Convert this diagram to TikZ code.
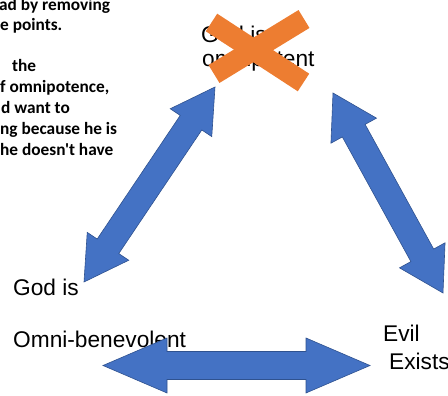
\documentclass[tikz,border=0pt]{standalone}
\usepackage{fontspec}
\setmainfont{Liberation Sans}
\newfontfamily\notefont{Carlito}
\usetikzlibrary{calc}
\definecolor{arrowblue}{HTML}{4472C4}
\definecolor{arrowline}{HTML}{2F528F}
\definecolor{crossorange}{HTML}{ED7D31}
\tikzset{
  label/.style={anchor=base west,inner sep=0pt,font=\fontsize{22.7}{25}\selectfont},
  note/.style={anchor=base west,inner sep=0pt,font=\notefont\bfseries\fontsize{17.3}{20.7}\selectfont},
  arrowfill/.style={fill=arrowblue,draw=arrowline,line width=0.6pt,line join=miter},
  cross/.style={draw=crossorange,line width=21pt,line cap=butt}
}
% fat double arrow: #1 from, #2 to, #3 head length, #4 head half width, #5 shaft half width
\newcommand{\fatarrow}[5]{%
  \path ($(#1)!#3!(#2)$) coordinate (h1) ($(#2)!#3!(#1)$) coordinate (h2);
  \draw[arrowfill] (#1) -- ($(h1)!#4!90:(#2)$) -- ($(h1)!#5!90:(#2)$) -- ($(h2)!#5!-90:(#1)$)
    -- ($(h2)!#4!-90:(#1)$) -- (#2) -- ($(h2)!#4!90:(#1)$) -- ($(h2)!#5!90:(#1)$)
    -- ($(h1)!#5!-90:(#2)$) -- ($(h1)!#4!-90:(#2)$) -- cycle;}

\begin{document}
\begin{tikzpicture}[x=1pt,y=1pt]
\useasboundingbox (0,0) rectangle (448,396);
\clip (0,0) rectangle (448,396);
%---note-------------------------------------------
\draw (-1,385) node[note] (n1) {ad by removing}
    (0,365.5) node[note] (n2) {e points.}
    (12,324) node[note] (n3) {the}
    (0,303) node[note] (n4) {f omnipotence,}
    (1,282) node[note] (n5) {d want to}
    (0,261) node[note] (n6) {ng because he is}
    (0,240) node[note] (n7) {he doesn't have};
%---text-------------------------------------------
\draw (201,353) node[label] (pot) {God is}
    (202,329) node[label] (pot2) {omnipotent}
    (13,100) node[label] (ben) {God is}
    (13,48) node[label] (ben2) {Omni-benevolent}
    (383,54) node[label] (evil) {Evil}
    (389,26) node[label] (evil2) {Exists};
%---cross------------------------------------------
\draw[cross] (211.5,373.5) -- (303.5,313.5);
\draw[cross] (304,377) -- (214,322);
%---arrows-----------------------------------------
\coordinate (pot-l) at (215,309);
\coordinate (pot-r) at (333,303);
\coordinate (ben-t) at (84,114);
\coordinate (ben-r) at (103,30.5);
\coordinate (evil-t) at (443,103);
\coordinate (evil-l) at (370,30.5);
\fatarrow{ben-t}{pot-l}{43pt}{25pt}{13pt}
\fatarrow{pot-r}{evil-t}{43pt}{26pt}{13pt}
\fatarrow{ben-r}{evil-l}{64pt}{27.5pt}{14pt}
\end{tikzpicture}
\end{document}
